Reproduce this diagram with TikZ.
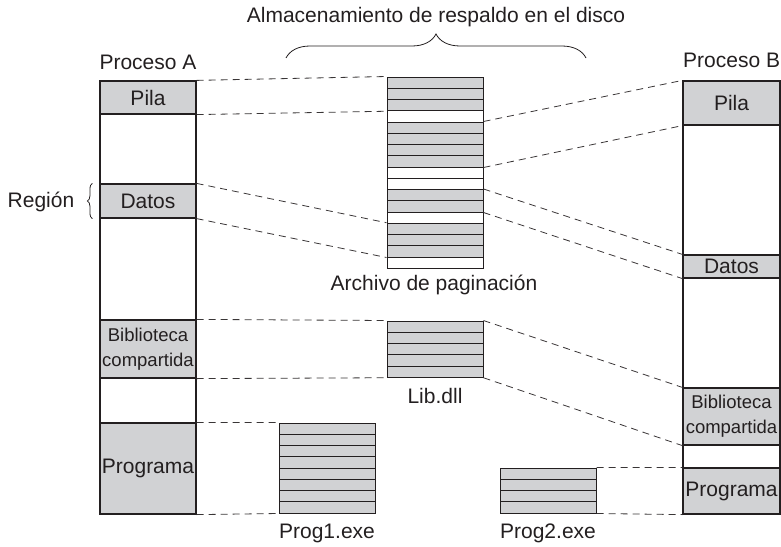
\documentclass[tikz,border=0pt]{standalone}
\usepackage{fontspec}
\setmainfont{Liberation Sans}
\usetikzlibrary{positioning,decorations.pathreplacing}
\definecolor{gris}{RGB}{209,210,212}
\definecolor{tinta}{RGB}{35,31,32}
\tikzset{
  col/.style={draw=tinta, line width=1.2pt, fill=white, minimum width=96pt, inner sep=0pt},
  seg/.style={draw=tinta, line width=1.2pt, fill=#1, minimum width=96pt, inner sep=0pt, align=center, text=tinta, font=\fontsize{21}{24}\selectfont},
  seg/.default={gris},
  franja/.style={draw=tinta, line width=1pt, fill=#1, minimum width=96pt, minimum height=11.25pt, inner sep=0pt},
  franja/.default={gris},
  etiq/.style={text=tinta, inner sep=0pt, font=\fontsize{21}{24}\selectfont},
  enlace/.style={draw=tinta!90, line width=0.8pt, dash pattern=on 7pt off 5pt},
  llave/.style={draw=tinta, line width=0.8pt, decorate, decoration={brace, amplitude=#1}}
}
\begin{document}
\begin{tikzpicture}[x=1pt, y=-1pt]
  \useasboundingbox (0,0) rectangle (781,546);
  % proceso A
  \node[col, minimum height=433pt] (colA) at (148,297.5) {};
  \node[seg, minimum height=33pt] (pilaA) at (148,97.5) {Pila};
  \node[seg, minimum height=34pt] (datosA) at (148,201) {Datos};
  \node[seg, minimum height=58pt, font=\fontsize{18.5}{25}\selectfont] (biblioA) at (148,349) {Biblioteca\\compartida};
  \node[seg, minimum height=91pt] (progA) at (148,468.5) {Programa};
  % proceso B
  \node[col, minimum width=97pt, minimum height=433pt] (colB) at (731.5,297.5) {};
  \node[seg, minimum width=97pt, minimum height=44pt] (pilaB) at (731.5,103) {Pila};
  \node[seg, minimum width=97pt, minimum height=23pt] (datosB) at (731.5,266.5) {Datos};
  \node[seg, minimum width=97pt, minimum height=57pt, font=\fontsize{18.5}{25}\selectfont] (biblioB) at (731.5,416.5) {Biblioteca\\compartida};
  \node[seg, minimum width=97pt, minimum height=46pt] (progB) at (731.5,491) {Programa};
  % archivo de paginacion
  \foreach \i/\c in {1/gris,2/gris,3/gris,4/white,5/gris,6/gris,7/gris,8/gris,9/white,10/white,11/gris,12/gris,13/white,14/gris,15/gris,16/gris,17/white}
    \node[franja=\c] (pag\i) at (435,{77+(\i-0.5)*11.25}) {};
  \foreach \i in {1,...,5}
    \node[franja] (lib\i) at (435,{321+(\i-0.5)*11.25}) {};
  \foreach \i in {1,...,8}
    \node[franja] (exeA\i) at (327,{423+(\i-0.5)*11.25}) {};
  \foreach \i in {1,...,4}
    \node[franja] (exeB\i) at (548,{468+(\i-0.5)*11.25}) {};
  % textos
  \node[etiq] (procA) at (148,62) {Proceso A};
  \node[etiq, anchor=west] (procB) at (683,60) {Proceso B};
  \node[etiq] (disco) at (436,17) {Almacenamiento de respaldo en el disco};
  \node[etiq] (paginacion) at (434,285) {Archivo de paginación};
  \node[etiq] (libdll) at (435,396) {Lib.dll};
  \node[etiq] (prog1) at (327,533) {Prog1.exe};
  \node[etiq] (prog2) at (548,533) {Prog2.exe};
  \node[etiq] (region) at (41,202) {Región};
  % llaves
  \coordinate (llaveI) at (286,58);
  \coordinate (llaveD) at (586,58);
  \draw[llave=24pt] (llaveI) -- (llaveD);
  \draw[llave=5pt] ([xshift=-7pt]datosA.south west) -- ([xshift=-7pt]datosA.north west);
  % lineas discontinuas
  \draw[enlace] (pilaA.north east) -- (pag1.north west);
  \draw[enlace] (pilaA.south east) -- (pag3.south west);
  \draw[enlace] (datosA.north east) -- (pag14.north west);
  \draw[enlace] (datosA.south east) -- (pag16.south west);
  \draw[enlace] (pag5.north east) -- (pilaB.north west);
  \draw[enlace] (pag8.south east) -- (pilaB.south west);
  \draw[enlace] (pag11.north east) -- (datosB.north west);
  \draw[enlace] (pag12.south east) -- (datosB.south west);
  \draw[enlace] (biblioA.north east) -- (lib1.north west);
  \draw[enlace] (biblioA.south east) -- (lib5.south west);
  \draw[enlace] (lib1.north east) -- (biblioB.north west);
  \draw[enlace] (lib5.south east) -- (biblioB.south west);
  \draw[enlace] (progA.north east) -- (exeA1.north west);
  \draw[enlace] (progA.south east) -- (exeA8.south west);
  \draw[enlace] (exeB1.north east) -- (progB.north west);
  \draw[enlace] (exeB4.south east) -- (progB.south west);
\end{tikzpicture}
\end{document}
